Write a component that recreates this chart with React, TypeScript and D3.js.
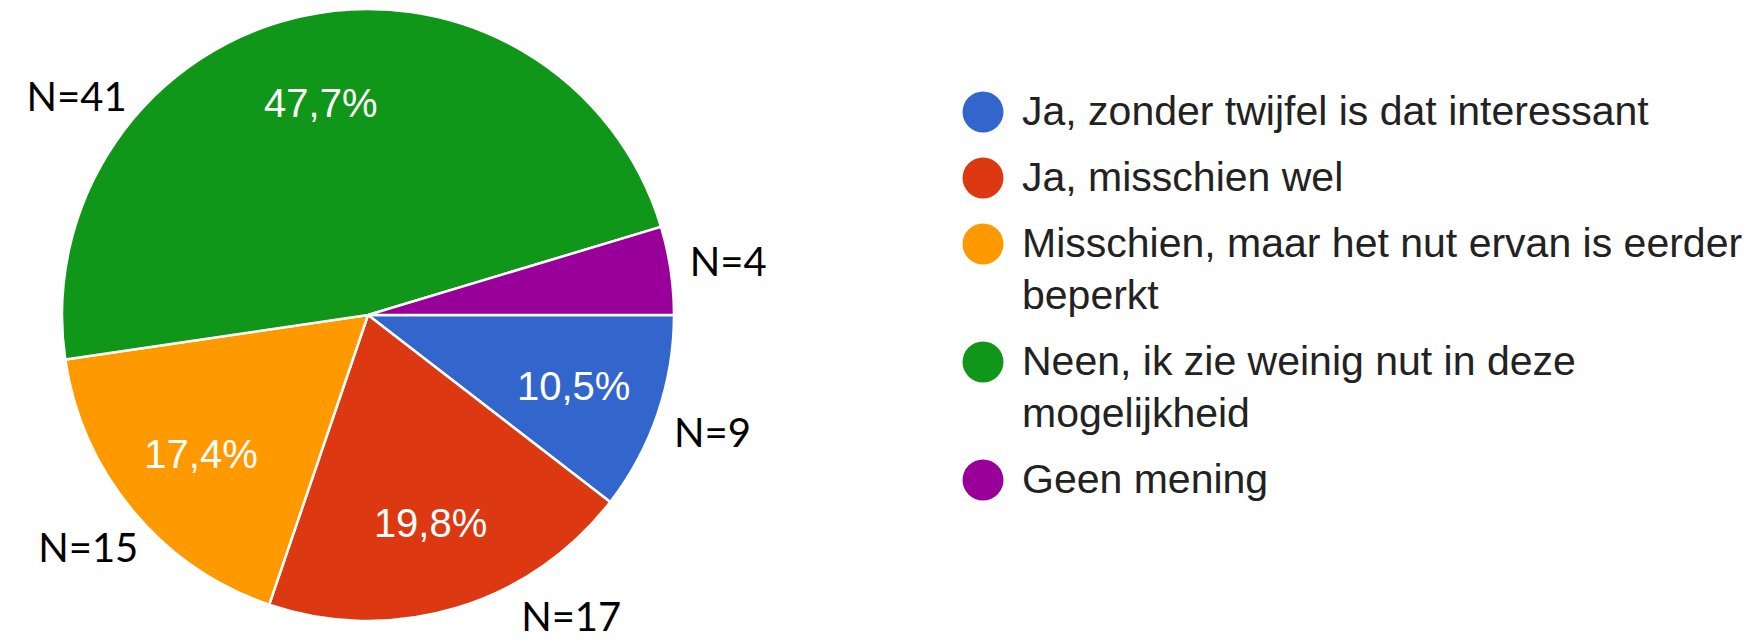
import React from "react";
import * as d3 from "d3";

// survey answers (Dutch), counts per answer
const categories = [
  "Ja, zonder twijfel is dat interessant",
  "Ja, misschien wel",
  "Misschien, maar het nut ervan is eerder beperkt",
  "Neen, ik zie weinig nut in deze mogelijkheid",
  "Geen mening",
];
const counts = [9, 17, 15, 41, 4];
const colors = ["#3366cc", "#dc3912", "#ff9900", "#109618", "#990099"];

const width = 1752;
const height = 642;
const cx = 368;
const cy = 315;
const radius = 306;

const nlLocale = d3.formatLocale({ decimal: ",", thousands: ".", grouping: [3], currency: ["", " €"] });
const pct = nlLocale.format(".1%");

const legendFont = "41px 'Liberation Sans', Arial, sans-serif";

// simple word wrap, measured on a canvas
function wrap(text: string, maxWidth: number): string[] {
  const ctx = document.createElement("canvas").getContext("2d");
  if (!ctx) return [text];
  ctx.font = legendFont;
  const words = text.split(" ");
  const lines: string[] = [];
  let line = "";
  words.forEach((w) => {
    const test = line ? line + " " + w : w;
    if (line && ctx.measureText(test).width > maxWidth) {
      lines.push(line);
      line = w;
    } else {
      line = test;
    }
  });
  if (line) lines.push(line);
  return lines;
}

export default function App() {
  const total = d3.sum(counts);

  const pie = d3
    .pie<number>()
    .sort(null)
    .value((d) => d)
    .startAngle(Math.PI / 2)
    .endAngle(Math.PI / 2 + Math.PI * 2);
  const arcs = pie(counts);

  const arc = d3.arc<d3.PieArcDatum<number>>().innerRadius(0).outerRadius(radius);
  const pctArc = d3
    .arc<d3.PieArcDatum<number>>()
    .innerRadius(radius * 0.71)
    .outerRadius(radius * 0.71);

  // N= labels sit on a ring outside the pie, pushed along the ring to stay on the page
  const nRadius = radius + 58;
  const yMin = 97 - cy;
  const yMax = 617 - cy;
  const nPos = (d: d3.PieArcDatum<number>) => {
    const a = (d.startAngle + d.endAngle) / 2;
    let x = nRadius * Math.sin(a);
    let y = -nRadius * Math.cos(a);
    const side = Math.sign(x) || 1;
    if (y < yMin) {
      y = yMin;
      x = side * Math.sqrt(nRadius * nRadius - y * y);
    } else if (y > yMax) {
      y = yMax;
      x = side * Math.sqrt(nRadius * nRadius - y * y);
    }
    return [x, y];
  };

  // legend layout
  const legendX = 983;
  const lineH = 52;
  const itemGap = 66;
  let baseline = 125;
  const legendItems = categories.map((c, i) => {
    const lines = wrap(c, 740);
    const item = { lines, y: baseline, color: colors[i] };
    baseline += (lines.length - 1) * lineH + itemGap;
    return item;
  });

  return (
    <svg
      width={width}
      height={height}
      style={{ position: "absolute", left: 0, top: 0, background: "#fff" }}
    >
      <g transform={`translate(${cx},${cy})`}>
        {arcs.map((d, i) => (
          <path key={i} d={arc(d) || ""} fill={colors[i]} stroke="#fff" strokeWidth={2.5} />
        ))}
        {arcs
          .filter((d) => d.data / total >= 0.05)
          .map((d, i) => {
            const [x, y] = pctArc.centroid(d);
            return (
              <text
                key={"p" + i}
                x={x}
                y={y}
                dy="0.36em"
                textAnchor="middle"
                fill="#fff"
                fontFamily="'Liberation Sans', Arial, sans-serif"
                fontSize={40}
              >
                {pct(d.data / total)}
              </text>
            );
          })}
        {arcs.map((d, i) => {
          const [x, y] = nPos(d);
          return (
            <text
              key={"n" + i}
              x={x}
              y={y}
              dy="0.36em"
              textAnchor="middle"
              fill="#000"
              fontFamily="Lato, 'Open Sans', sans-serif"
              fontSize={40}
            >
              {"N=" + d.data}
            </text>
          );
        })}
      </g>
      <g>
        {legendItems.map((it, i) => (
          <g key={i}>
            <circle cx={legendX} cy={it.y - 13} r={20.5} fill={it.color} />
            <text
              x={legendX + 39}
              y={it.y}
              fill="#222"
              style={{ font: legendFont }}
            >
              {it.lines.map((l, j) => (
                <tspan key={j} x={legendX + 39} y={it.y + j * lineH}>
                  {l}
                </tspan>
              ))}
            </text>
          </g>
        ))}
      </g>
    </svg>
  );
}
